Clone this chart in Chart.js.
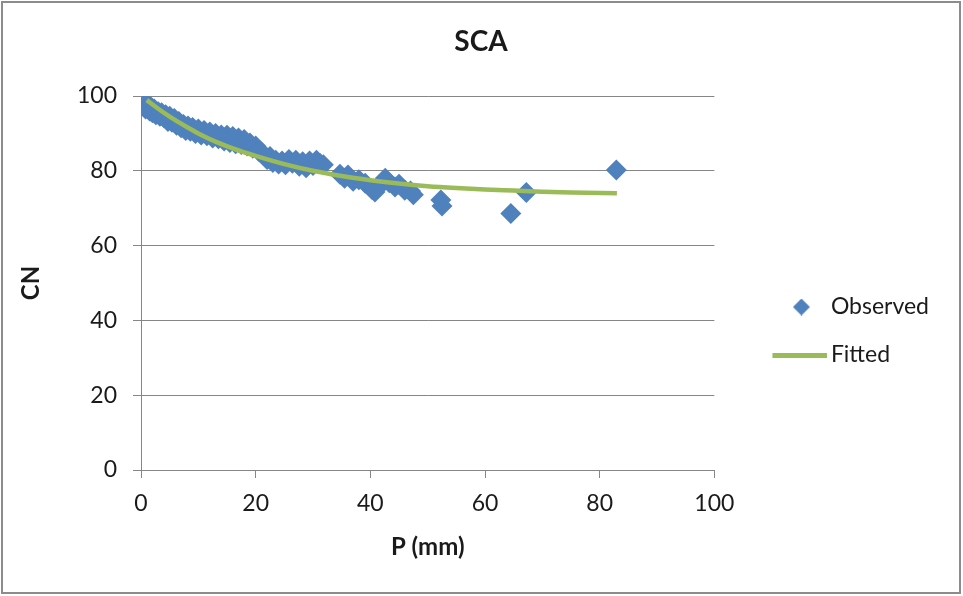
<!DOCTYPE html>
<html>
<head>
<meta charset="utf-8">
<script src="https://cdn.jsdelivr.net/npm/chart.js@4.4.0/dist/chart.umd.min.js"></script>
<style>
  html, body { margin: 0; padding: 0; background: #fff; }
  #wrap { position: relative; width: 963px; height: 596px; }
  #frame { position: absolute; left: 1px; top: 1px; width: 960px; height: 593px; box-sizing: border-box; border: 2px solid #8c8c8c; pointer-events: none; }
</style>
</head>
<body>
<div id="wrap">
  <canvas id="chart" width="963" height="596"></canvas>
  <div id="frame"></div>
</div>
<script>
// valeurs
const obsP  = [0.5, 0.8, 1.0, 1.2, 1.5, 1.8, 2.0, 2.3, 2.6, 3.0, 3.3, 3.6, 4.0, 4.3, 4.7, 5.0, 5.4, 5.8, 6.2, 6.6,
               7.0, 7.4, 7.8, 8.2, 8.6, 9.0, 9.5, 10.0, 10.5, 11.0, 11.5, 12.0, 12.5, 13.0, 13.5, 14.0, 14.5, 15.0, 15.5, 16.0,
               16.5, 17.0, 17.5, 18.0, 18.5, 19.0, 19.5, 20.0, 20.5, 21.0, 21.5, 22.0, 22.5, 23.0, 23.5, 24.0, 24.6, 25.2, 25.8, 26.4,
               27.0, 27.6, 28.2, 28.8, 29.4, 30.0, 30.6, 31.2, 31.8, 34.7, 35.5, 36.1, 37.0, 38.0, 39.1, 40.3, 40.8, 41.5, 42.6, 43.3,
               44.3, 45.0, 46.0, 47.0, 47.5, 52.3, 52.5, 64.5, 67.2, 82.9];
const obsCN = [97.5, 96.5, 98.0, 97.0, 96.0, 97.0, 95.5, 96.5, 95.0, 95.8, 94.6, 95.5, 94.2, 95.0, 93.2, 94.6, 93.0, 94.0, 92.2, 93.2,
               91.5, 92.4, 90.8, 92.0, 90.6, 91.6, 90.0, 91.2, 89.6, 90.8, 89.4, 90.4, 88.8, 90.0, 88.6, 89.6, 88.0, 89.5, 87.6, 89.2,
               87.2, 88.8, 87.0, 88.4, 86.6, 87.4, 86.0, 86.6, 85.2, 85.0, 84.0, 83.0, 83.8, 82.2, 82.8, 81.8, 82.6, 81.6, 83.0, 82.0,
               82.8, 81.2, 82.4, 80.8, 82.6, 81.4, 82.8, 82.0, 81.6, 79.1, 78.0, 78.9, 77.2, 77.6, 76.7, 75.0, 74.3, 75.8, 78.0, 76.8,
               75.7, 76.4, 74.8, 74.6, 73.6, 72.2, 70.6, 68.6, 74.2, 80.2];

const fitP  = [1, 3, 5, 8, 10, 13, 16, 20, 25, 30, 35, 40, 45, 50, 55, 60, 65, 70, 75, 83];
const fitCN = [98.9, 96.6, 94.5, 91.7, 90.0, 87.8, 86.0, 84.0, 81.8, 80.0, 78.6, 77.5, 76.6, 75.9, 75.4, 75.0, 74.7, 74.4, 74.2, 74.0];

const xTicks = [0, 20, 40, 60, 80, 100];
const yTicks = [0, 20, 40, 60, 80, 100];

const FONT = 'Lato, "Open Sans", sans-serif';
const BLUE = '#4F81BD';
const GREEN = '#9BBB59';
const GRID = '#868686';
const TXT = '#1a1a1a';

// icônes de légende : dessinées décalées dans une image centrée sur la case
function diamondIcon(size, shift, color) {
  const c = document.createElement('canvas');
  c.width = 2 * (shift + size / 2);
  c.height = size;
  const g = c.getContext('2d');
  g.fillStyle = color;
  g.beginPath();
  g.moveTo(c.width - size / 2, 0);
  g.lineTo(c.width, size / 2);
  g.lineTo(c.width - size / 2, size);
  g.lineTo(c.width - size, size / 2);
  g.closePath();
  g.fill();
  return c;
}
function lineIcon(from, to, h, color) {
  const c = document.createElement('canvas');
  c.width = 2 * to;
  c.height = h;
  const g = c.getContext('2d');
  g.fillStyle = color;
  g.fillRect(to + from, 0, to - from, h);
  return c;
}

const ctx = document.getElementById('chart').getContext('2d');
new Chart(ctx, {
  type: 'scatter',
  data: {
    datasets: [
      {
        label: 'Observed',
        data: obsP.map((p, i) => ({x: p, y: obsCN[i]})),
        pointStyle: 'rectRot',
        pointRadius: 10.5,
        pointBackgroundColor: BLUE,
        pointBorderWidth: 0,
        order: 1
      },
      {
        label: 'Fitted',
        data: fitP.map((p, i) => ({x: p, y: fitCN[i]})),
        showLine: true,
        borderColor: GREEN,
        borderWidth: 4.5,
        pointRadius: 0,
        cubicInterpolationMode: 'monotone',
        order: 0
      }
    ]
  },
  options: {
    responsive: false,
    animation: false,
    layout: {padding: {left: 23, right: 24, top: 10, bottom: 0}},
    plugins: {
      title: {
        display: true, text: 'SCA', color: TXT,
        font: {family: FONT, size: 28, weight: 'bold'},
        padding: {top: 15, bottom: 37.4}
      },
      legend: {
        position: 'right',
        title: {display: true, text: ' ', font: {size: 10, lineHeight: 1}, padding: {top: 0, bottom: 46}},
        labels: {
          usePointStyle: true,
          pointStyleWidth: 80,
          padding: 25,
          color: TXT,
          font: {family: FONT, size: 23},
          generateLabels: () => [
            {text: 'Observed', fontColor: TXT, pointStyle: diamondIcon(17, 22, BLUE), fillStyle: BLUE, strokeStyle: BLUE, lineWidth: 0, hidden: false, datasetIndex: 0},
            {text: 'Fitted', fontColor: TXT, pointStyle: lineIcon(-7, 48, 5, GREEN), fillStyle: GREEN, strokeStyle: GREEN, lineWidth: 0, hidden: false, datasetIndex: 1}
          ]
        }
      },
      tooltip: {enabled: false}
    },
    scales: {
      x: {
        type: 'linear', min: 0, max: 100,
        afterBuildTicks: s => { s.ticks = xTicks.map(v => ({value: v})); },
        afterFit: s => { s.height = 126; },
        grid: {drawOnChartArea: false, tickLength: 8, color: GRID},
        border: {color: GRID},
        ticks: {padding: 12, color: TXT, font: {family: FONT, size: 23}},
        title: {display: true, text: 'P (mm)', color: TXT, font: {family: FONT, size: 24, weight: 'bold'}, padding: {top: 0, bottom: 34.6}}
      },
      y: {
        type: 'linear', min: 0, max: 100,
        afterBuildTicks: s => { s.ticks = yTicks.map(v => ({value: v})); },
        afterFit: s => { s.width = 118; },
        grid: {tickLength: 8, color: GRID},
        border: {color: GRID},
        ticks: {padding: 16, color: TXT, font: {family: FONT, size: 23}},
        title: {display: true, text: 'CN', color: TXT, font: {family: FONT, size: 24, weight: 'bold'}, padding: {top: -6.4, bottom: 0}}
      }
    }
  }
});
</script>
</body>
</html>
